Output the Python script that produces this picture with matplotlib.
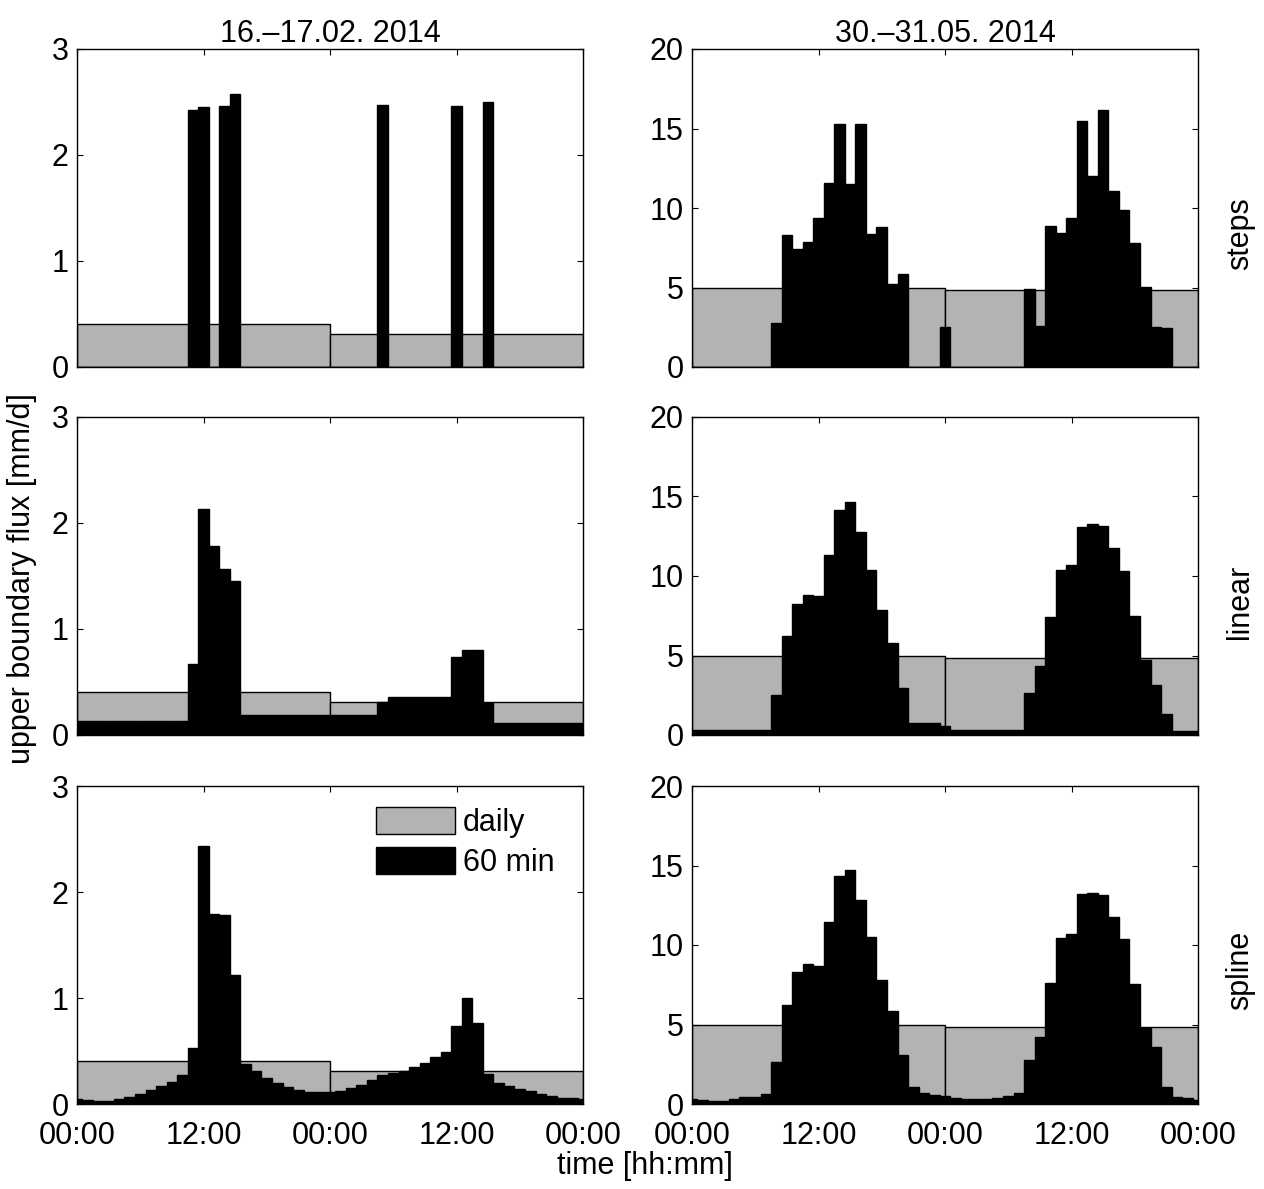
import numpy as np
import matplotlib.pyplot as plt

plt.rcParams['font.family'] = ['Liberation Sans', 'DejaVu Sans']
plt.rcParams['font.size'] = 22

# hourly values (bar centred on each full hour, 0..48 h)
hours = np.arange(49)
day_centers = [12, 36]
tick_pos = [0, 12, 24, 36, 48]
tick_lab = ['00:00', '12:00', '00:00', '12:00', '00:00']

titles = ['16.\u201317.02. 2014', '30.\u201331.05. 2014']
row_names = ['steps', 'linear', 'spline']

daily_feb = [0.41, 0.31]
daily_may = [5.0, 4.87]

steps_feb = [0, 0, 0, 0, 0, 0, 0, 0, 0, 0, 0, 2.42, 2.45, 0, 2.46, 2.58,
             0, 0, 0, 0, 0, 0, 0, 0, 0, 0, 0, 0, 0, 2.47, 0, 0,
             0, 0, 0, 0, 2.46, 0, 0, 2.50, 0, 0, 0, 0, 0, 0, 0, 0, 0]
steps_may = [0, 0, 0, 0, 0, 0, 0, 0, 2.75, 8.28, 7.42, 7.84, 9.35, 11.6, 15.3, 11.5,
             15.3, 8.36, 8.8, 5.24, 5.83, 0, 0, 0, 2.49, 0, 0, 0, 0, 0, 0, 0,
             4.9, 2.58, 8.85, 8.4, 9.37, 15.47, 12.0, 16.18, 11.07, 9.9, 7.78, 5.01, 2.54, 2.45, 0, 0, 0]

linear_feb = [0.13, 0.13, 0.13, 0.13, 0.13, 0.13, 0.13, 0.13, 0.13, 0.13, 0.13, 0.667, 2.13, 1.78, 1.57, 1.45,
              0.19, 0.19, 0.19, 0.19, 0.19, 0.19, 0.19, 0.19, 0.19, 0.19, 0.19, 0.19, 0.19, 0.31, 0.36, 0.36,
              0.36, 0.36, 0.36, 0.36, 0.74, 0.80, 0.80, 0.30, 0.113, 0.113, 0.113, 0.113, 0.113, 0.113, 0.113, 0.113, 0.113]
linear_may = [0.33, 0.33, 0.33, 0.33, 0.33, 0.33, 0.33, 0.33, 2.5, 6.2, 8.27, 8.81, 8.77, 11.33, 14.15, 14.67,
              12.77, 10.4, 7.85, 5.77, 2.98, 0.73, 0.73, 0.73, 0.54, 0.33, 0.33, 0.33, 0.33, 0.33, 0.33, 0.33,
              2.67, 4.31, 7.42, 10.38, 10.67, 13.1, 13.27, 13.17, 11.75, 10.3, 7.5, 4.69, 3.15, 1.29, 0.27, 0.27, 0.27]

spline_feb = [0.047, 0.038, 0.03, 0.03, 0.047, 0.07, 0.094, 0.13, 0.17, 0.21, 0.27, 0.53, 2.43, 1.79, 1.78, 1.22,
              0.38, 0.31, 0.25, 0.2, 0.16, 0.13, 0.11, 0.11, 0.11, 0.126, 0.15, 0.18, 0.23, 0.27, 0.29, 0.31,
              0.35, 0.39, 0.44, 0.49, 0.74, 1.0, 0.76, 0.28, 0.2, 0.17, 0.14, 0.12, 0.094, 0.075, 0.06, 0.053, 0.05]
spline_may = [0.33, 0.25, 0.2, 0.2, 0.29, 0.42, 0.46, 0.6, 2.67, 6.25, 8.31, 8.79, 8.69, 11.44, 14.31, 14.71,
              12.85, 10.52, 7.83, 5.875, 3.08, 1.08, 0.71, 0.58, 0.5, 0.4, 0.33, 0.29, 0.29, 0.375, 0.5, 0.71,
              2.79, 4.23, 7.6, 10.42, 10.67, 13.2, 13.25, 13.17, 11.73, 10.35, 7.54, 4.75, 3.56, 1.04, 0.46, 0.35, 0.25]

feb_rows = [steps_feb, linear_feb, spline_feb]
may_rows = [steps_may, linear_may, spline_may]

GREY = '#b3b3b3'
W, H = 1264, 1189
fig = plt.figure(figsize=(W / 100, H / 100), dpi=100)

col_left = [77, 692]
row_top = [49, 417, 786]
aw, ah = 506, 318


def style_axes(ax, ymax, yticks, bottom):
    ax.set_xlim(0, 48)
    ax.set_ylim(0, ymax)
    ax.set_xticks(tick_pos)
    ax.set_yticks(yticks)
    if bottom:
        ax.set_xticklabels(tick_lab)
    else:
        ax.set_xticklabels([])
    ax.tick_params(direction='in', top=True, right=True, length=4, width=0.8, labelsize=22)
    ax.tick_params(axis='y', pad=6)
    ax.tick_params(axis='x', pad=12)
    for s in ax.spines.values():
        s.set_linewidth(1.0)


for r in range(3):
    for c in range(2):
        ax = fig.add_axes([col_left[c] / W, 1 - (row_top[r] + ah) / H, aw / W, ah / H])
        if c == 0:
            daily, vals, ymax, yt = daily_feb, feb_rows[r], 3, [0, 1, 2, 3]
        else:
            daily, vals, ymax, yt = daily_may, may_rows[r], 20, [0, 5, 10, 15, 20]
        ax.bar(day_centers, daily, width=24, color=GREY, edgecolor='k', linewidth=1.0, label='daily')
        ax.bar(hours, vals, width=1, color='k', edgecolor='k', linewidth=1.0, label='60 min')
        style_axes(ax, ymax, yt, r == 2)
        if r == 0:
            ax.set_title(titles[c], fontsize=22, pad=5)
        if c == 1:
            ax.text(1.083, 0.42, row_names[r], transform=ax.transAxes, rotation=90,
                    ha='center', va='center', fontsize=22)
        if r == 2 and c == 0:
            ax.legend(loc='upper left', bbox_to_anchor=(0.59, 0.935), frameon=False,
                      borderpad=0, borderaxespad=0, handlelength=2.6, handleheight=1.0,
                      labelspacing=0.3, handletextpad=0.25, fontsize=22)

fig.text(22 / W, 1 - 579 / H, 'upper boundary flux [mm/d]', rotation=90,
         ha='center', va='center', fontsize=22)
fig.text(645 / W, 1 - 1166 / H, 'time [hh:mm]', ha='center', va='center', fontsize=22)

fig.savefig('out.png', dpi=100)
